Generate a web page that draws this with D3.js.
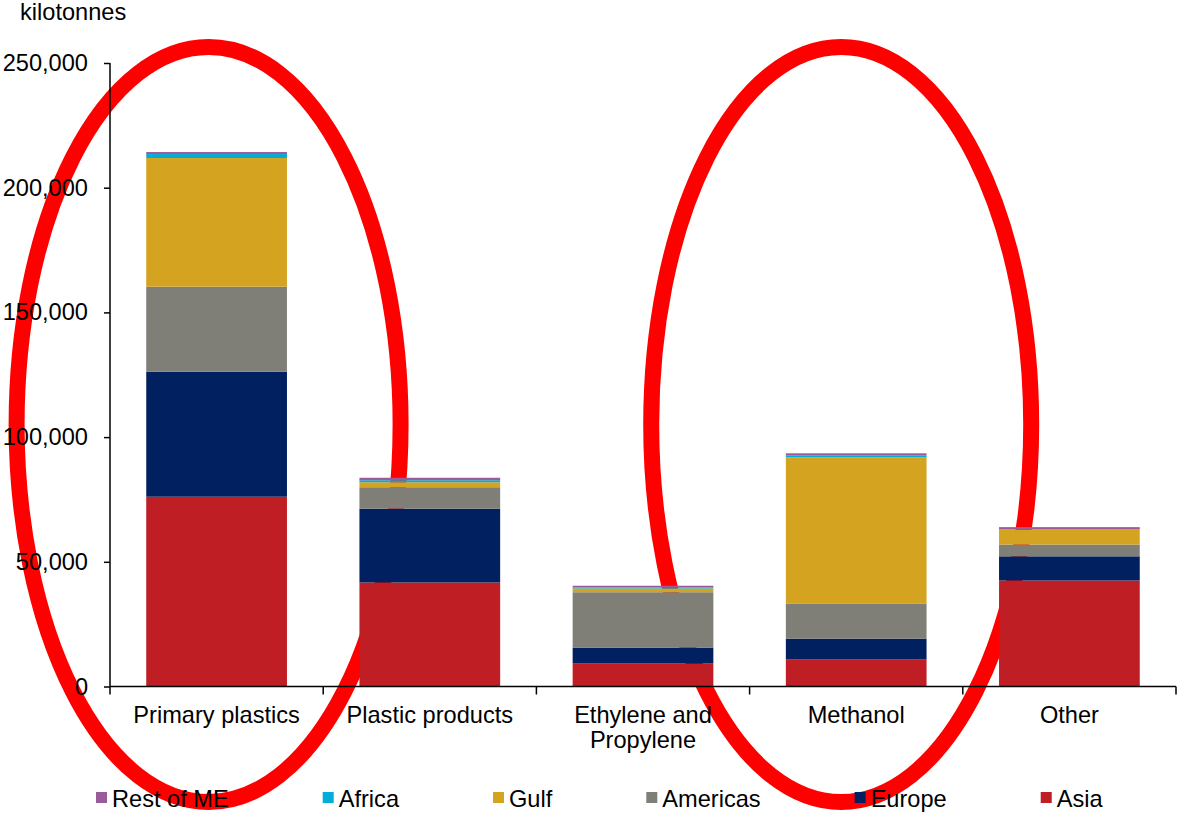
<!DOCTYPE html>
<html>
<head>
<meta charset="utf-8">
<script src="https://cdn.jsdelivr.net/npm/d3@7"></script>
<style>
  html, body { margin: 0; padding: 0; background: #fff; }
  svg { display: block; }
  text { font-family: "Liberation Sans", Arial, sans-serif; fill: #000; }
</style>
</head>
<body>
<svg id="chart" width="1178" height="816"></svg>
<script>
// Production by destination, kilotonnes
const categories = ["Primary plastics", "Plastic products", "Ethylene and Propylene", "Methanol", "Other"];
const categoryLines = [["Primary plastics"], ["Plastic products"], ["Ethylene and", "Propylene"], ["Methanol"], ["Other"]];

const asia     = [76100, 41700,  9200, 10800, 42500];
const europe   = [50100, 29600,  6400,  8400,  9700];
const americas = [34100,  8600, 22200, 14100,  4700];
const gulf     = [51600,  2000,  1500, 58600,  6000];
const africa   = [ 1600,   800,   400,   800,   100];
const restME   = [  800,  1000,   700,   800,   900];

const seriesNames = ["Asia", "Europe", "Americas", "Gulf", "Africa", "Rest of ME"];
const seriesValues = [asia, europe, americas, gulf, africa, restME];
const seriesColors = ["#BE1E24", "#002060", "#7F7F78", "#D4A31F", "#00AEDA", "#9B5B9B"];
const legendOrder = ["Rest of ME", "Africa", "Gulf", "Americas", "Europe", "Asia"];

const yTicks = [0, 50000, 100000, 150000, 200000, 250000];

const FONT = 23.6;
const svg = d3.select("#chart");
const margin = { left: 110, right: 2, top: 63, bottom: 130 };
const W = 1178, H = 816;

const x = d3.scaleBand().domain(categories)
  .range([margin.left, W - margin.right])
  .paddingInner(0.34).paddingOuter(0.17);
const y = d3.scaleLinear().domain([0, 250000]).range([686.5, margin.top]);
const color = d3.scaleOrdinal().domain(seriesNames).range(seriesColors);

// highlight ellipses around the plastics and methanol groups (drawn underneath)
const highlights = [
  { cat: "Primary plastics", dx: -8, rx: 192, ry: 377.5 },
  { cat: "Methanol", dx: -15, rx: 190, ry: 377.5 }
];
svg.append("g").selectAll("ellipse").data(highlights).join("ellipse")
  .attr("cx", d => x(d.cat) + x.bandwidth() / 2 + d.dx)
  .attr("cy", 424.5)
  .attr("rx", d => d.rx)
  .attr("ry", d => d.ry)
  .attr("fill", "none")
  .attr("stroke", "#FF0000")
  .attr("stroke-width", 16);

// stacked bars
const rows = categories.map((c, i) => {
  const r = { category: c };
  seriesNames.forEach((s, j) => r[s] = seriesValues[j][i]);
  return r;
});
const stacked = d3.stack().keys(seriesNames)(rows);

svg.append("g").selectAll("g").data(stacked).join("g")
  .attr("fill", d => color(d.key))
  .selectAll("rect").data(d => d).join("rect")
  .attr("x", d => x(d.data.category))
  .attr("width", x.bandwidth())
  .attr("y", d => y(d[1]))
  .attr("height", d => y(d[0]) - y(d[1]));

// y axis
const yAxis = svg.append("g")
  .attr("transform", `translate(${margin.left},0)`)
  .call(d3.axisLeft(y).tickValues(yTicks).tickSize(6).tickPadding(16)
    .tickFormat(d3.format(",")));
yAxis.select(".domain").attr("stroke", "#000").attr("stroke-width", 1.5)
  .attr("d", `M0,${y(250000)}V${y(0)}`);
yAxis.selectAll(".tick line").attr("stroke", "#000").attr("stroke-width", 1.5);
yAxis.selectAll(".tick text").attr("font-size", FONT).attr("font-family", "Liberation Sans, Arial, sans-serif").attr("fill", "#000");

// x axis with ticks at band boundaries
const xAxisG = svg.append("g").attr("transform", `translate(0,${y(0)})`);
xAxisG.append("line")
  .attr("x1", margin.left).attr("x2", W - margin.right)
  .attr("stroke", "#000").attr("stroke-width", 1.5);
const boundaries = categories.map(c => x(c) - x.step() * x.paddingInner() / 2)
  .concat([x(categories[categories.length - 1]) + x.bandwidth() + x.step() * x.paddingInner() / 2]);
boundaries[0] = margin.left;
xAxisG.selectAll("line.tk").data(boundaries).join("line")
  .attr("class", "tk")
  .attr("x1", d => d).attr("x2", d => d)
  .attr("y1", 0).attr("y2", 8)
  .attr("stroke", "#000").attr("stroke-width", 1.5);

// category labels
const catG = svg.append("g");
categories.forEach((c, i) => {
  const t = catG.append("text")
    .attr("x", x(c) + x.bandwidth() / 2)
    .attr("y", 723)
    .attr("text-anchor", "middle")
    .attr("font-size", FONT);
  categoryLines[i].forEach((line, k) => {
    t.append("tspan").attr("x", x(c) + x.bandwidth() / 2)
      .attr("dy", k === 0 ? 0 : 25).text(line);
  });
});

// unit label
svg.append("text").attr("x", 20).attr("y", 20).attr("font-size", FONT).text("kilotonnes");

// legend
const legend = svg.append("g");
let lx = 96;
legendOrder.forEach(name => {
  legend.append("rect").attr("x", lx).attr("y", 792).attr("width", 11).attr("height", 11)
    .attr("fill", color(name));
  const t = legend.append("text").attr("x", lx + 16).attr("y", 807)
    .attr("font-size", FONT).text(name);
  lx = lx + 16 + t.node().getComputedTextLength() + 94;
});
</script>
</body>
</html>
